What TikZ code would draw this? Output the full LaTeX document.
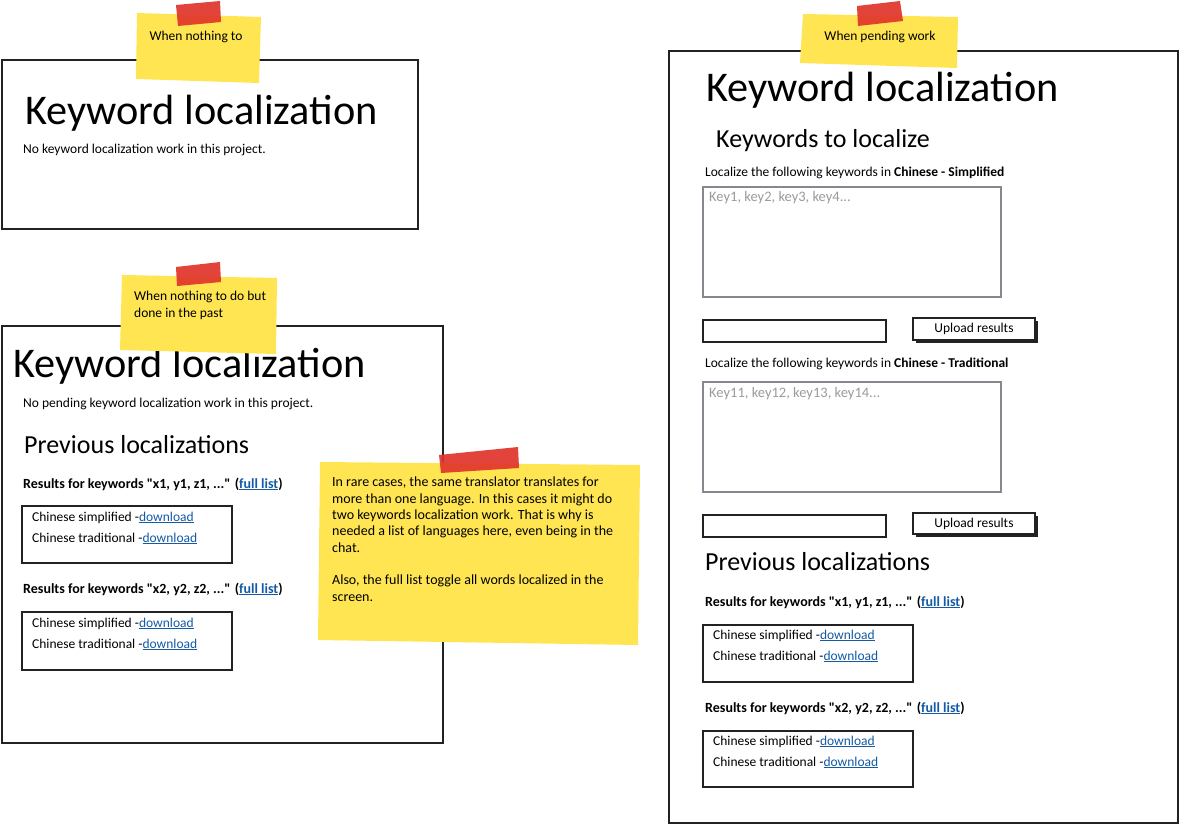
\documentclass[tikz,border=0pt]{standalone}
\usepackage{fontspec}
\setmainfont{Carlito}
\usepackage{tikz}
\usetikzlibrary{calc}
\definecolor{noteyellow}{HTML}{FFE552}
\definecolor{tapered}{HTML}{E0352B}
\definecolor{linkblue}{HTML}{145AA5}
\definecolor{areagray}{HTML}{88868F}
\definecolor{phgray}{HTML}{9B9B9B}
\definecolor{ink}{HTML}{222222}
\newcommand{\lnk}[1]{{\color{linkblue}\underline{#1}}}
\newcommand{\q}{\textquotedbl}

\begin{document}
\begin{tikzpicture}[x=1pt, y=-1pt,
    panel/.style={draw=ink, line width=1.8pt, fill=white},
    box/.style={draw=ink, line width=1.8pt},
    area/.style={draw=areagray, line width=2.2pt},
    note/.style={fill=noteyellow},
    tape/.style={fill=tapered, fill opacity=0.92},
    title/.style={anchor=base west, inner sep=0pt, font=\fontsize{42.3}{46}\selectfont},
    head/.style={anchor=base west, inner sep=0pt, font=\fontsize{26}{28}\selectfont},
    body/.style={anchor=base west, inner sep=0pt, font=\fontsize{13.5}{16}\selectfont},
    bold/.style={body, font=\fontsize{14}{16}\selectfont\bfseries},
    hint/.style={body, text=phgray, font=\fontsize{14.5}{16}\selectfont}]
\useasboundingbox[fill=white] (0,0) rectangle (1180,826);

% panels

\draw[panel] (2,60) rectangle (418,229);
\draw[panel] (2,326) rectangle (443,743);
\draw[panel] (669,51) rectangle (1178,823);

% first panel: nothing to do
\node[title] (t1) at (25,125) {Keyword localization};
\node[body] (n1) at (23,154) {No keyword localization work in this project.};

% second panel: done in the past
\node[title] (t2) at (13,377) {Keyword localization};
\node[body] (n2) at (23,407) {No pending keyword localization work in this project.};
\node[head] (p2) at (24,453) {Previous localizations};
\node[bold] (r2a) at (23,488) {Results for keywords \q x1, y1, z1, ...\q{} (\lnk{full list})};
\draw[box] (22,506) rectangle (232,563);
\node[body] (r2a1) at (32,521) {Chinese simplified -\lnk{download}};
\node[body] (r2a2) at (32,542) {Chinese traditional -\lnk{download}};
\node[bold] (r2b) at (23,593) {Results for keywords \q x2, y2, z2, ...\q{} (\lnk{full list})};
\draw[box] (22,612) rectangle (232,670);
\node[body] (r2b1) at (32,627) {Chinese simplified -\lnk{download}};
\node[body] (r2b2) at (32,648) {Chinese traditional -\lnk{download}};

% third panel: pending work
\node[title] (t3) at (706,102) {Keyword localization};
\node[head] (k3) at (716,148) {Keywords to localize};
\node[body] (l3a) at (705,177) {Localize the following keywords in \textbf{Chinese - Simplified}};
\draw[area] (703,187) rectangle (1001,297);
\node[hint] (ph3a) at (709,202) {Key1, key2, key3, key4...};
\draw[box] (703,320) rectangle (886,342);
\fill[ink] (916,321) rectangle (1038,343);
\draw[box, fill=white] (913,318) rectangle (1035,340);
\node[body] (u3a) at (974,329) [anchor=center] {Upload results};
\node[body] (l3b) at (705,367) {Localize the following keywords in \textbf{Chinese - Traditional}};
\draw[area] (703,382) rectangle (1001,492);
\node[hint] (ph3b) at (709,397) {Key11, key12, key13, key14...};
\draw[box] (703,515) rectangle (886,537);
\fill[ink] (916,516) rectangle (1038,537);
\draw[box, fill=white] (913,513) rectangle (1035,534);
\node[body] (u3b) at (974,524) [anchor=center] {Upload results};
\node[head] (p3) at (705,570) {Previous localizations};
\node[bold] (r3a) at (705,606) {Results for keywords \q x1, y1, z1, ...\q{} (\lnk{full list})};
\draw[box] (703,625) rectangle (913,682);
\node[body] (r3a1) at (713,639) {Chinese simplified -\lnk{download}};
\node[body] (r3a2) at (713,660) {Chinese traditional -\lnk{download}};
\node[bold] (r3b) at (705,712) {Results for keywords \q x2, y2, z2, ...\q{} (\lnk{full list})};
\draw[box] (703,731) rectangle (913,787);
\node[body] (r3b1) at (713,745) {Chinese simplified -\lnk{download}};
\node[body] (r3b2) at (713,766) {Chinese traditional -\lnk{download}};

% sticky notes

\fill[note] (137,13) -- (261,17) -- (259,83) -- (136,79) -- cycle;
\fill[tape] (176,5) -- (220,1) -- (221,22) -- (178,26) -- cycle;
\node[body] (s1) at (196,41) [anchor=base] {When nothing to};

\fill[note] (122,275) -- (277,278) -- (276,354) -- (120,350) -- cycle;
\fill[tape] (176,267) -- (220,262) -- (221,282) -- (177,286) -- cycle;
\node[body] (s2a) at (134,301) {When nothing to do but};
\node[body] (s2b) at (134,317) {done in the past};

\fill[note] (320,462) -- (640,465) -- (638,645) -- (318,640) -- cycle;
\fill[tape] (439,455) -- (518,447) -- (519,468) -- (441,473) -- cycle;
\node[body, anchor=north west, align=left, font=\fontsize{14}{16.3}\selectfont] (s3) at (332,477)
  {In rare cases, the same translator translates for\\
   more than one language. In this cases it might do\\
   two keywords localization work. That is why is\\
   needed a list of languages here, even being in the\\
   chat.\\[16.3pt]
   Also, the full list toggle all words localized in the\\
   screen.};

\fill[note] (803,14) -- (958,17) -- (957,68) -- (800,63) -- cycle;
\fill[tape] (857,6) -- (900,1) -- (903,21) -- (858,26) -- cycle;
\node[body] (s4) at (880,41) [anchor=base] {When pending work};

\end{tikzpicture}
\end{document}
